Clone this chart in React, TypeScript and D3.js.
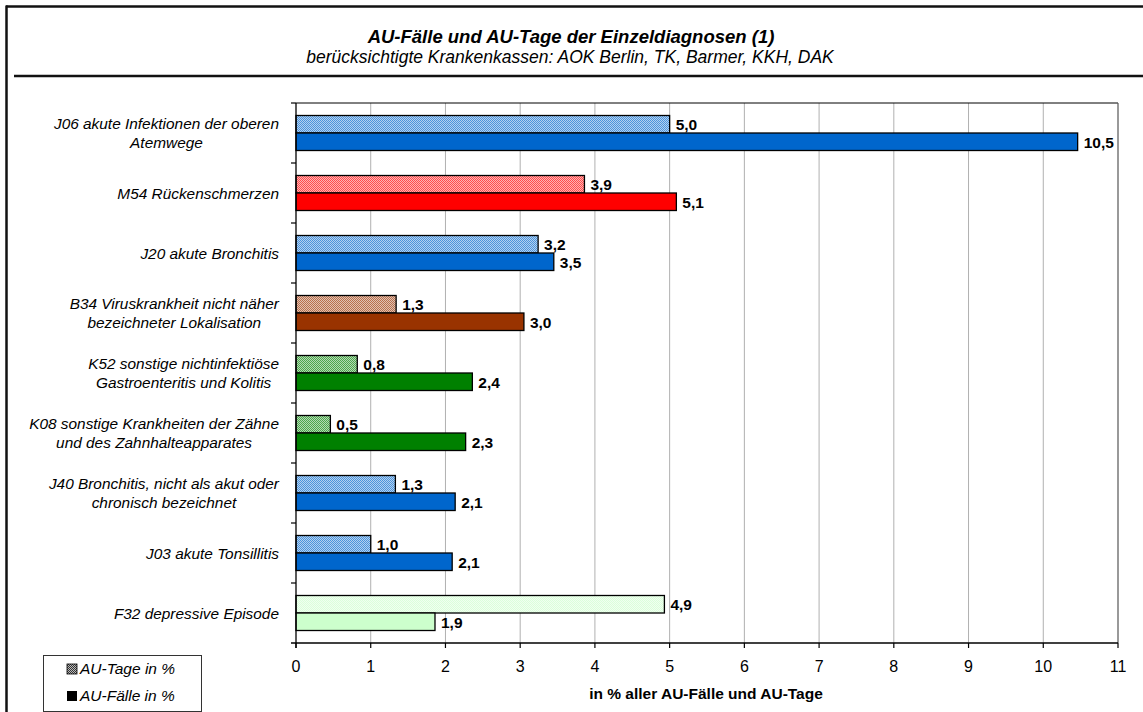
import React from "react";
import * as d3 from "d3";

const categories: string[][] = [
  ["J06 akute Infektionen der oberen", "Atemwege"],
  ["M54 Rückenschmerzen"],
  ["J20 akute Bronchitis"],
  ["B34 Viruskrankheit nicht näher", "bezeichneter Lokalisation"],
  ["K52 sonstige nichtinfektiöse", "Gastroenteritis und Kolitis"],
  ["K08 sonstige Krankheiten der Zähne", "und des Zahnhalteapparates"],
  ["J40 Bronchitis, nicht als akut oder", "chronisch bezeichnet"],
  ["J03 akute Tonsillitis"],
  ["F32 depressive Episode"],
];
const auTage: number[] = [5.0, 3.86, 3.24, 1.34, 0.82, 0.46, 1.33, 1.0, 4.93];
const auFaelle: number[] = [10.46, 5.09, 3.45, 3.05, 2.36, 2.27, 2.13, 2.09, 1.86];
const barColors: string[] = ["#0066CC", "#FF0000", "#0066CC", "#993300", "#008000", "#008000", "#0066CC", "#0066CC", "#CCFFCC"];
const xTicks: number[] = [0, 1, 2, 3, 4, 5, 6, 7, 8, 9, 10, 11];
const seriesNames: string[] = ["AU-Tage in %", "AU-Fälle in %"];

const FONT = "'Liberation Sans', Arial, Helvetica, sans-serif";
const W = 1143;
const H = 712;
const plot = { left: 296, right: 1118, top: 103, bottom: 643 };

let canvasCtx: CanvasRenderingContext2D | null = null;
function measure(text: string, font: string): number {
  if (!canvasCtx) {
    const c = document.createElement("canvas");
    canvasCtx = c.getContext("2d");
  }
  if (!canvasCtx) return text.length * 7;
  canvasCtx.font = font;
  return canvasCtx.measureText(text).width;
}

const fmt = (v: number) => v.toFixed(1).replace(".", ",");

export default function App() {
  const x = d3.scaleLinear().domain([0, 11]).range([plot.left, plot.right]);
  const y = d3
    .scaleBand<number>()
    .domain(categories.map((_, i) => i))
    .range([plot.top, plot.bottom])
    .padding(0);
  const ySub = d3
    .scaleBand<string>()
    .domain(seriesNames)
    .range([0, y.step()])
    .paddingInner(0)
    .paddingOuter(0.714);

  const uniqueColors = Array.from(new Set(barColors));
  const patId = (c: string) => "pat" + c.replace("#", "");
  const mix = (c: string, t: number) => d3.interpolateRgb(c, "#ffffff")(t);

  const labelFontSize = 15.4;
  const labelFont = `italic ${labelFontSize}px ${FONT}`;
  const labelRight = 279;
  const valueFont = 15.5;

  return (
    <svg width={W} height={H} style={{ display: "block", position: "absolute", left: 0, top: 0, background: "#fff" }}>
      <defs>
        {uniqueColors.map((c) => (
          <pattern key={c} id={patId(c)} width={2} height={2} patternUnits="userSpaceOnUse">
            <rect x={0} y={0} width={2} height={2} fill={mix(c, 0.7)} />
            <rect x={0} y={0} width={1} height={1} fill={mix(c, 0.3)} />
            <rect x={1} y={1} width={1} height={1} fill={mix(c, 0.3)} />
          </pattern>
        ))}
        <pattern id="patLegend" width={2} height={2} patternUnits="userSpaceOnUse">
          <rect x={0} y={0} width={2} height={2} fill="#bbbbbb" />
          <rect x={0} y={0} width={1} height={1} fill="#333" />
          <rect x={1} y={1} width={1} height={1} fill="#333" />
        </pattern>
      </defs>
      <rect x={0} y={0} width={W} height={H} fill="#fff" />

      {/* outer frame */}
      <line x1={6} y1={6.5} x2={W} y2={6.5} stroke="#111" strokeWidth={2.5} />
      <line x1={6.5} y1={5.5} x2={6.5} y2={H} stroke="#111" strokeWidth={2.5} />
      <line x1={14} y1={76} x2={W} y2={76} stroke="#111" strokeWidth={2.5} />

      {/* title */}
      <text x={571} y={43} textAnchor="middle" fontFamily={FONT} fontSize={18.5} fontWeight="bold" fontStyle="italic" fill="#000">
        AU-Fälle und AU-Tage der Einzeldiagnosen (1)
      </text>
      <text x={570} y={63} textAnchor="middle" fontFamily={FONT} fontSize={17.5} fontStyle="italic" fill="#000">
        berücksichtigte Krankenkassen: AOK Berlin, TK, Barmer, KKH, DAK
      </text>

      {/* gridlines */}
      {xTicks.slice(1, -1).map((t) => (
        <line key={"g" + t} x1={x(t)} x2={x(t)} y1={plot.top} y2={plot.bottom} stroke="#b0b0b0" strokeWidth={1} />
      ))}
      {/* plot frame top / right */}
      <line x1={plot.left} x2={plot.right} y1={plot.top} y2={plot.top} stroke="#000" strokeWidth={1} />
      <line x1={plot.right} x2={plot.right} y1={plot.top} y2={plot.bottom} stroke="#555" strokeWidth={1.2} />

      {/* bars */}
      {categories.map((_, i) => {
        const y0 = y(i) as number;
        const c = barColors[i];
        const yT = y0 + (ySub(seriesNames[0]) as number);
        const yF = y0 + (ySub(seriesNames[1]) as number);
        const bh = ySub.bandwidth();
        return (
          <g key={"b" + i}>
            <rect x={x(0)} y={yT} width={x(auTage[i]) - x(0)} height={bh} fill={`url(#${patId(c)})`} stroke="#000" strokeWidth={1.3} />
            <rect x={x(0)} y={yF} width={x(auFaelle[i]) - x(0)} height={bh} fill={c} stroke="#000" strokeWidth={1.3} />
            <text x={x(auTage[i]) + 6} y={yT + bh / 2 + 6} fontFamily={FONT} fontSize={valueFont} fontWeight="bold" fill="#000">
              {fmt(auTage[i])}
            </text>
            <text x={x(auFaelle[i]) + 6} y={yF + bh / 2 + 6} fontFamily={FONT} fontSize={valueFont} fontWeight="bold" fill="#000">
              {fmt(auFaelle[i])}
            </text>
          </g>
        );
      })}

      {/* axes */}
      <line x1={plot.left} x2={plot.left} y1={plot.top} y2={plot.bottom + 5} stroke="#000" strokeWidth={1.3} />
      <line x1={plot.left - 5} x2={plot.right} y1={plot.bottom} y2={plot.bottom} stroke="#000" strokeWidth={1.3} />
      {categories.map((_, i) => (
        <line key={"lt" + i} x1={plot.left - 5} x2={plot.left} y1={y(i) as number} y2={y(i) as number} stroke="#000" strokeWidth={1.2} />
      ))}
      {xTicks.map((t) => (
        <g key={"xt" + t}>
          <line x1={x(t)} x2={x(t)} y1={plot.bottom} y2={plot.bottom + 5} stroke="#000" strokeWidth={1.2} />
          <text x={x(t)} y={672} textAnchor="middle" fontFamily={FONT} fontSize={16} fill="#000">
            {t}
          </text>
        </g>
      ))}
      <text x={706} y={699} textAnchor="middle" fontFamily={FONT} fontSize={15.5} fontWeight="bold" fill="#000">
        in % aller AU-Fälle und AU-Tage
      </text>

      {/* category labels */}
      {categories.map((lines, i) => {
        const cy = (y(i) as number) + y.step() / 2;
        const maxW = Math.max(...lines.map((l) => measure(l, labelFont)));
        const cx = labelRight - maxW / 2;
        const lh = 19;
        const startY = cy - ((lines.length - 1) * lh) / 2 + 5.5;
        return (
          <text key={"cl" + i} textAnchor="middle" fontFamily={FONT} fontSize={labelFontSize} fontStyle="italic" fill="#000">
            {lines.map((l, j) => (
              <tspan key={j} x={cx} y={startY + j * lh}>
                {l}
              </tspan>
            ))}
          </text>
        );
      })}

      {/* legend */}
      <rect x={43.5} y={655.5} width={158} height={56} fill="#fff" stroke="#333" strokeWidth={1} />
      <rect x={67} y={664} width={10} height={10} fill="url(#patLegend)" stroke="#000" strokeWidth={0.8} />
      <text x={80} y={674} fontFamily={FONT} fontSize={15.5} fontStyle="italic" fill="#000">
        {seriesNames[0]}
      </text>
      <rect x={67} y={691} width={10} height={10} fill="#000" />
      <text x={80} y={701} fontFamily={FONT} fontSize={15.5} fontStyle="italic" fill="#000">
        {seriesNames[1]}
      </text>
    </svg>
  );
}
